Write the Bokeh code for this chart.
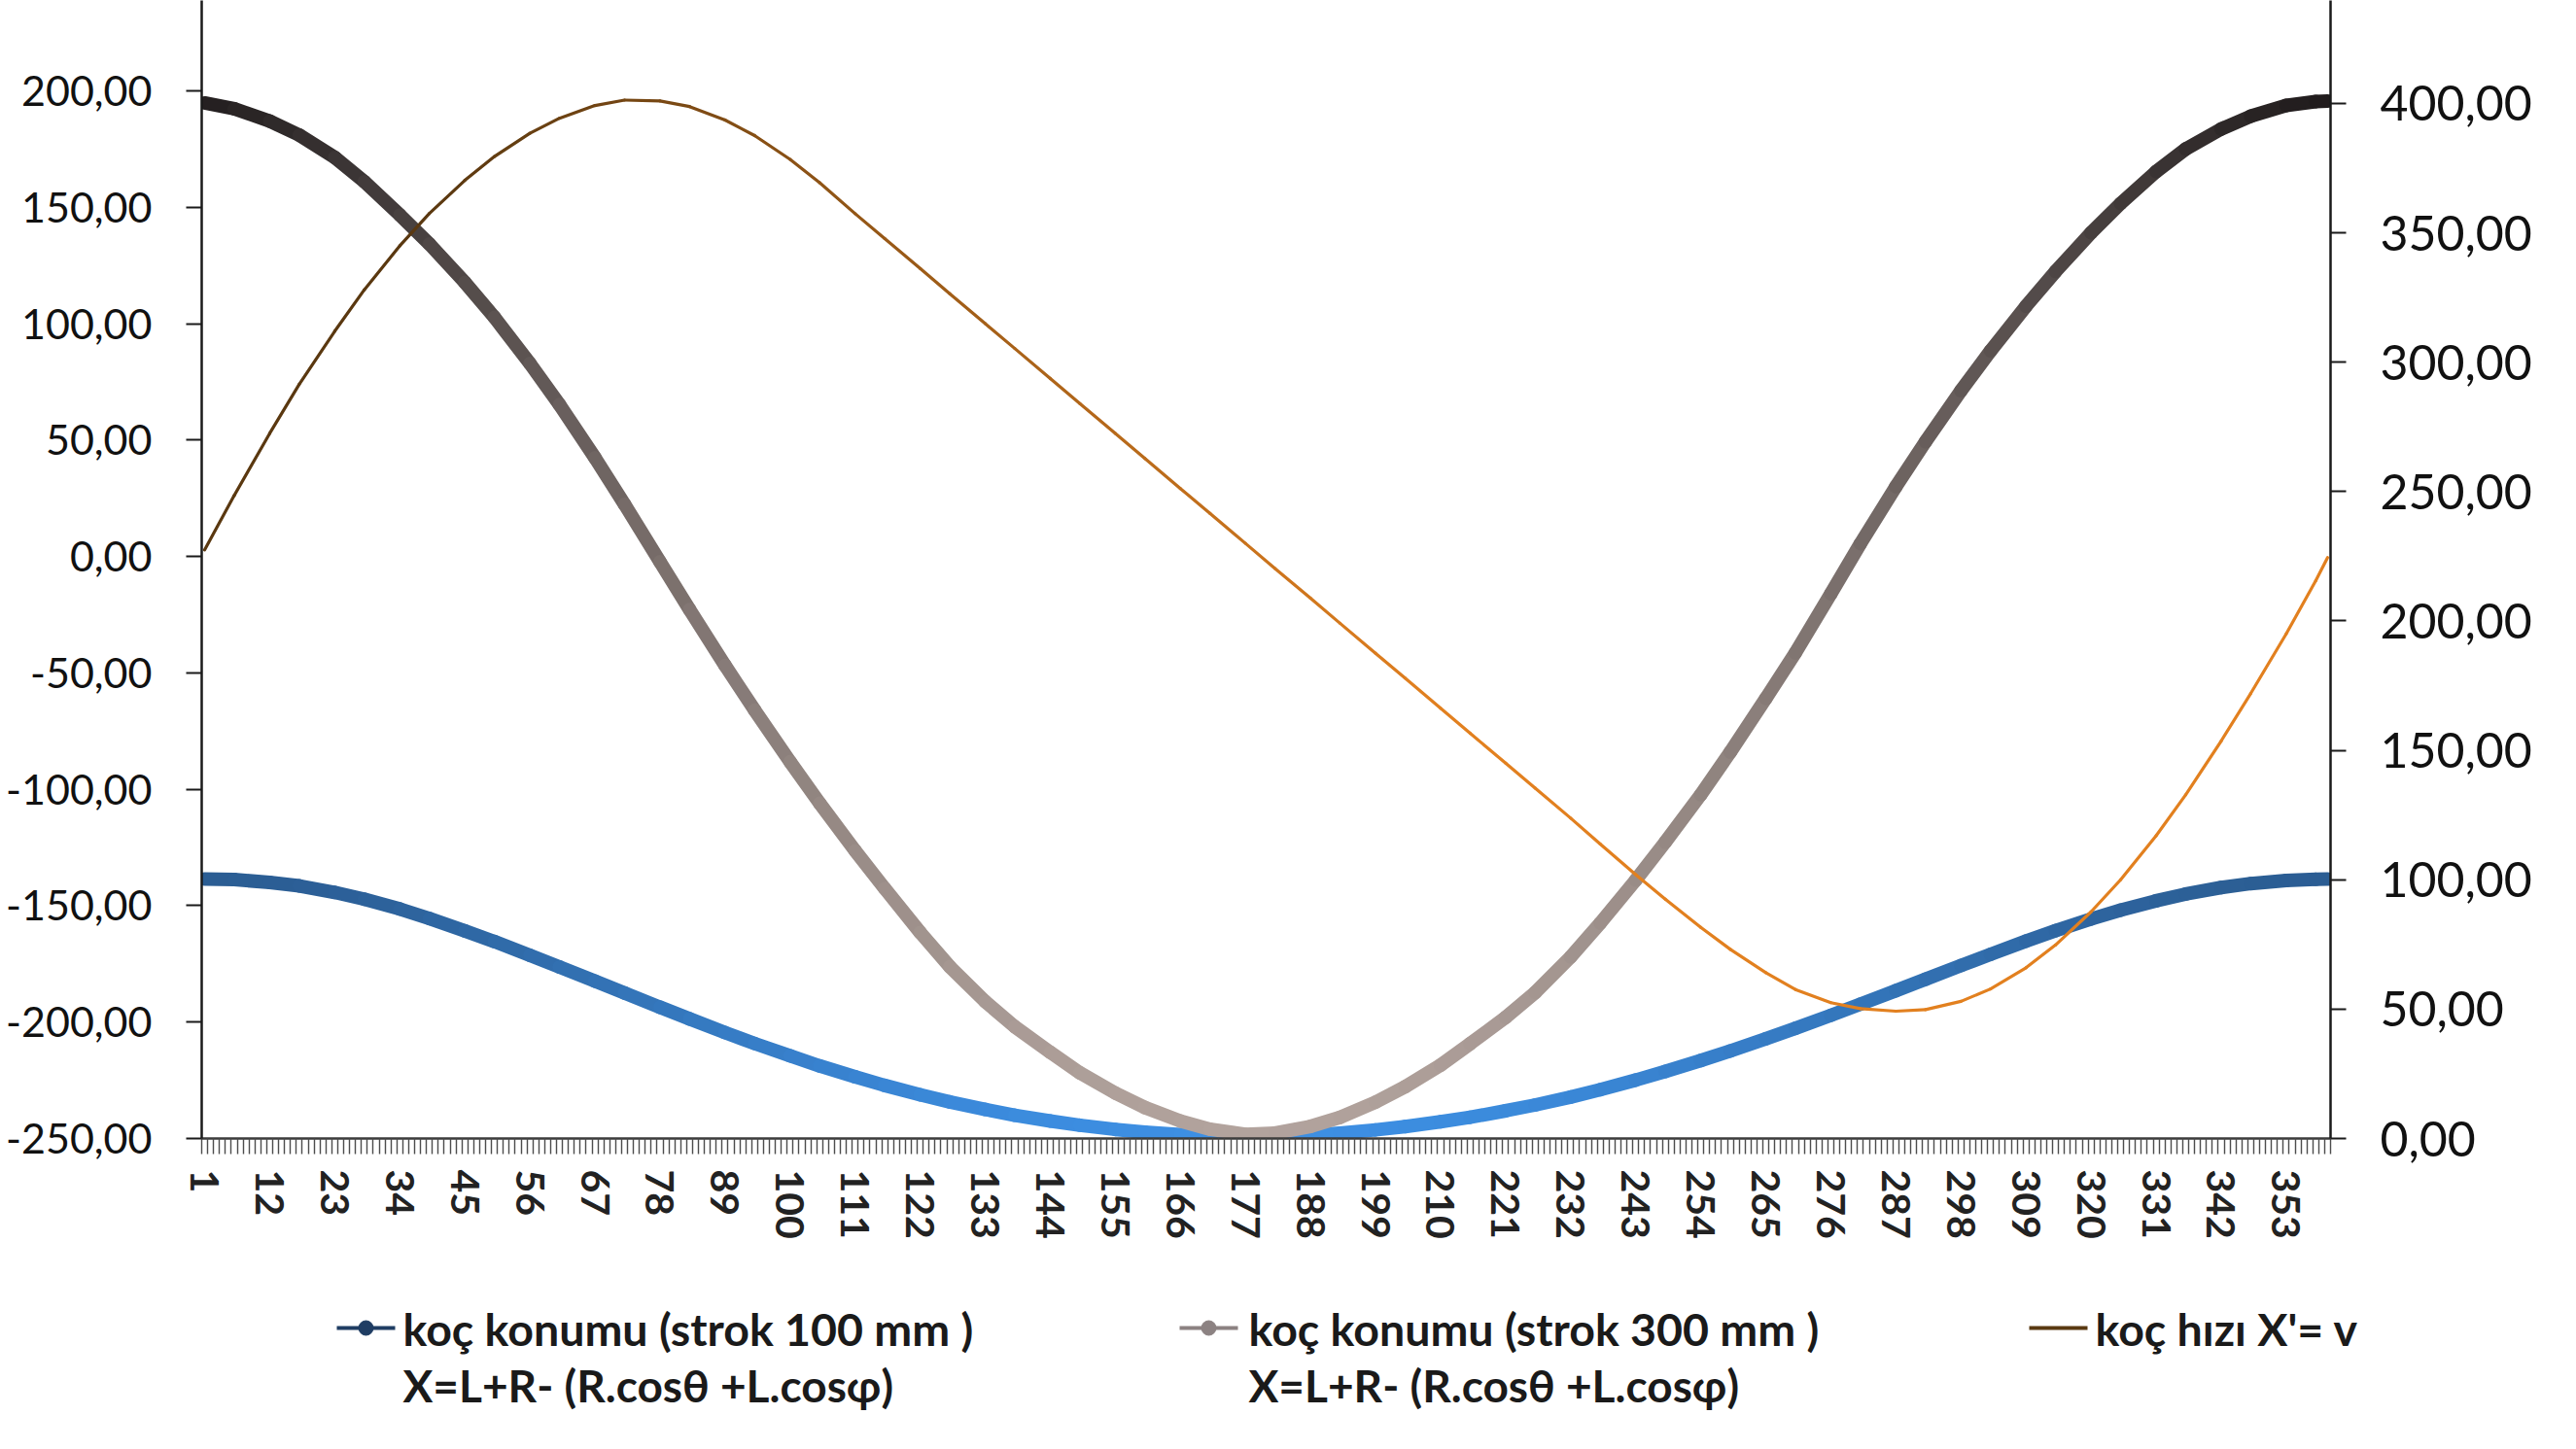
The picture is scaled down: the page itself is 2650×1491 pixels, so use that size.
from bokeh.plotting import figure
from bokeh.models import Range1d, LinearAxis, FixedTicker, ColumnDataSource, Label
from bokeh.layouts import column
from bokeh.embed import file_html
from bokeh.resources import INLINE

# crank angle index (1..360)
angles = [1, 6, 12, 17, 23, 28, 34, 39, 45, 50, 56, 61, 67, 72, 78, 83, 89, 94,
          100, 105, 111, 116, 122, 127, 133, 138, 144, 149, 155, 160, 166, 171, 177, 182,
          188, 193, 199, 204, 210, 215, 221, 226, 232, 237, 243, 248, 254, 259, 265, 270,
          276, 281, 287, 292, 298, 303, 309, 314, 320, 325, 331, 336, 342, 347, 353, 358, 360]

# ram position, 100 mm stroke (left axis)
ram_pos_100 = [-138.5, -138.8, -140.0, -141.5, -144.3, -147.2, -151.4, -155.5, -160.8, -165.4,
               -171.3, -176.3, -182.4, -187.5, -193.6, -198.6, -204.5, -209.2,
               -214.5, -218.8, -223.5, -227.2, -231.2, -234.3, -237.5, -240.0, -242.5, -244.3,
               -246.1, -247.3, -248.3, -248.9, -249.2, -249.1,
               -248.5, -247.7, -246.3, -244.9, -242.8, -240.9, -238.1, -235.6, -232.2, -229.0,
               -224.9, -221.2, -216.5, -212.4, -207.2, -202.7,
               -197.1, -192.3, -186.5, -181.6, -175.7, -170.9, -165.2, -160.7, -155.7, -151.9,
               -147.9, -145.0, -142.2, -140.5, -139.2, -138.7, -138.6]

# ram position, 300 mm stroke (left axis)
ram_pos_300 = [194.8, 192.3, 187.0, 181.0, 171.4, 161.0, 146.7, 134.2, 117.7, 102.7,
               82.9, 65.2, 42.4, 22.4, -2.3, -22.8, -46.8, -66.0,
               -88.2, -106.0, -126.4, -142.6, -161.5, -176.2, -191.2, -202.0, -213.0, -221.8,
               -230.5, -236.7, -242.5, -246.0, -248.2, -247.7,
               -244.8, -240.9, -234.4, -227.8, -218.5, -209.3, -198.0, -187.3, -172.0, -157.5,
               -139.0, -122.7, -102.3, -84.0, -61.0, -41.4,
               -16.0, 5.5, 30.0, 49.3, 71.2, 88.3, 107.5, 122.4, 139.0, 151.6,
               165.3, 175.0, 183.6, 189.1, 193.7, 195.4, 195.6]

# ram speed X' = v (right axis)
ram_speed = [227.5, 248.5, 272.5, 291.5, 312.0, 328.0, 345.0, 357.5, 370.3, 379.5,
             388.5, 394.3, 399.2, 401.3, 401.0, 398.8, 393.6, 387.6,
             378.4, 369.4, 357.4, 347.8, 336.2, 326.5, 314.9, 305.3, 293.7, 284.0,
             272.5, 262.8, 251.2, 241.6, 230.0, 220.3,
             208.8, 199.1, 187.5, 177.9, 166.3, 156.6, 145.1, 135.4, 123.8, 113.8,
             102.0, 92.5, 81.6, 73.1, 64.1, 57.6,
             52.5, 50.2, 49.2, 49.8, 53.0, 57.8, 66.0, 74.8, 87.6, 100.0,
             117.0, 132.8, 153.6, 172.0, 195.0, 215.6, 224.5]

x_tick_values = list(range(1, 360, 11))
left_tick_values = [-250, -200, -150, -100, -50, 0, 50, 100, 150, 200]
right_tick_values = [0, 50, 100, 150, 200, 250, 300, 350, 400]

series_names = ["koç konumu (strok 100 mm )", "koç konumu (strok 300 mm )", "koç hızı X'= v"]
formula_text = "X=L+R- (R.cosθ +L.cosφ)"

FONT = "Lato"

# frame edges on the page (pixels)
FRAME_LEFT, FRAME_RIGHT, PAGE_W = 207, 2397, 2650


def hex_to_rgb(h):
    h = h.lstrip("#")
    return tuple(int(h[i:i + 2], 16) for i in (0, 2, 4))


def mix(c1, c2, t):
    t = max(0.0, min(1.0, t))
    a, b = hex_to_rgb(c1), hex_to_rgb(c2)
    return "#%02x%02x%02x" % tuple(int(round(a[i] + (b[i] - a[i]) * t)) for i in range(3))


def fmt(v):
    return ("%.2f" % v).replace(".", ",")


def segments(xs, ys, color_of):
    x0, y0, x1, y1, col = [], [], [], [], []
    for k in range(len(xs) - 1):
        x0.append(xs[k]); y0.append(ys[k]); x1.append(xs[k + 1]); y1.append(ys[k + 1])
        col.append(color_of((xs[k] + xs[k + 1]) / 2, (ys[k] + ys[k + 1]) / 2))
    return ColumnDataSource(dict(x0=x0, y0=y0, x1=x1, y1=y1, c=col))


p = figure(width=PAGE_W, height=1331, output_backend="svg", toolbar_location=None,
           x_range=Range1d(0.5, 360.5), y_range=Range1d(-250, 238.8),
           min_border_left=FRAME_LEFT, min_border_right=PAGE_W - FRAME_RIGHT,
           min_border_top=0, min_border_bottom=160,
           x_axis_type=None, y_axis_type=None)
p.frame_align = False
p.extra_y_ranges = {"v": Range1d(0, 439.8)}
p.outline_line_color = None
p.xgrid.visible = False
p.ygrid.visible = False
p.background_fill_color = "white"
p.border_fill_color = "white"

# gradient colours follow the value for the position curves, the angle for the speed
blue_src = segments(angles, ram_pos_100,
                    lambda x, y: mix("#2b5d93", "#3d8fe3", (-138.0 - y) / 111.0))
gray_src = segments(angles, ram_pos_300,
                    lambda x, y: mix("#1e1a1b", "#b2a39d",
                                     max(0.0, (196.0 - y) / 445.0) ** 0.6))
speed_src = segments(angles, ram_speed,
                     lambda x, y: mix("#5a3810", "#e2801f", (x - 40) / 170.0))

p.segment(x0="x0", y0="y0", x1="x1", y1="y1", line_color="c", line_width=14,
          line_cap="round", source=blue_src)
p.segment(x0="x0", y0="y0", x1="x1", y1="y1", line_color="c", line_width=14,
          line_cap="round", source=gray_src)
p.segment(x0="x0", y0="y0", x1="x1", y1="y1", line_color="c", line_width=3.2,
          line_cap="round", source=speed_src, y_range_name="v")

# category axis
xaxis = LinearAxis(ticker=FixedTicker(ticks=x_tick_values,
                                      minor_ticks=[i + 0.5 for i in range(0, 361)]))
xaxis.major_label_overrides = {v: str(v) for v in x_tick_values}
xaxis.major_label_orientation = "vertical"
xaxis.major_tick_out = 0
xaxis.major_tick_in = 0
xaxis.minor_tick_out = 16
xaxis.minor_tick_in = 0
xaxis.minor_tick_line_color = "#4d4d4d"
xaxis.minor_tick_line_width = 1.4
xaxis.axis_line_color = "#3a3a3a"
xaxis.axis_line_width = 2.5
xaxis.major_label_standoff = 16
xaxis.major_label_text_font = FONT
xaxis.major_label_text_font_style = "bold"
xaxis.major_label_text_font_size = "41px"
xaxis.major_label_text_color = "#222222"
p.add_layout(xaxis, "below")

yl = LinearAxis(ticker=FixedTicker(ticks=left_tick_values, minor_ticks=[]))
yl.major_label_overrides = {v: fmt(v) for v in left_tick_values}
yl.major_label_text_font_size = "43px"
yr = LinearAxis(y_range_name="v", ticker=FixedTicker(ticks=right_tick_values, minor_ticks=[]))
yr.major_label_overrides = {v: fmt(v) for v in right_tick_values}
yr.major_label_text_font_size = "50px"
for ax in (yl, yr):
    ax.major_tick_out = 16
    ax.major_tick_in = 0
    ax.minor_tick_out = 0
    ax.minor_tick_in = 0
    ax.major_tick_line_color = "#1a1a1a"
    ax.major_tick_line_width = 2
    ax.axis_line_color = "#1a1a1a"
    ax.axis_line_width = 2.5
    ax.major_label_standoff = 35
    ax.major_label_text_font = FONT
    ax.major_label_text_color = "#111111"
p.add_layout(yl, "left")
p.add_layout(yr, "right")

# legend strip below the chart; its frame spans the whole page width,
# so its x data units are page pixels
lg = figure(width=PAGE_W, height=160, output_backend="svg", toolbar_location=None,
            x_range=Range1d(0, PAGE_W), y_range=Range1d(160, 0),
            min_border=0, x_axis_type=None, y_axis_type=None)
lg.frame_align = False
lg.outline_line_color = None
lg.xgrid.visible = False
lg.ygrid.visible = False
lg.background_fill_color = "white"
lg.border_fill_color = "white"

row1, row2 = 35, 94
key_x0 = [346, 1213, 2087]
key_colors = ["#1f3d63", "#8c8282", "#5a3a12"]
text_x = [414, 1284, 2155]
lg.segment(x0=key_x0, y0=[row1] * 3, x1=[k + 60 for k in key_x0], y1=[row1] * 3,
           line_color=key_colors, line_width=4)
lg.scatter(x=[k + 30 for k in key_x0[:2]], y=[row1] * 2, size=15,
           fill_color=key_colors[:2], line_color=key_colors[:2], marker="circle")

legend_lines = [(text_x[i], row1, series_names[i], "46.5px") for i in range(3)]
legend_lines += [(text_x[i], row2, formula_text, "46px") for i in range(2)]
for tx, ty, txt, size in legend_lines:
    lg.add_layout(Label(x=tx, y=ty, text=txt, text_font=FONT, text_font_style="bold",
                        text_font_size=size, text_baseline="middle", text_align="left",
                        text_color="#1a1a1a"))

page = column(p, lg, spacing=0)
open("out.html", "w").write(file_html(page, INLINE))
